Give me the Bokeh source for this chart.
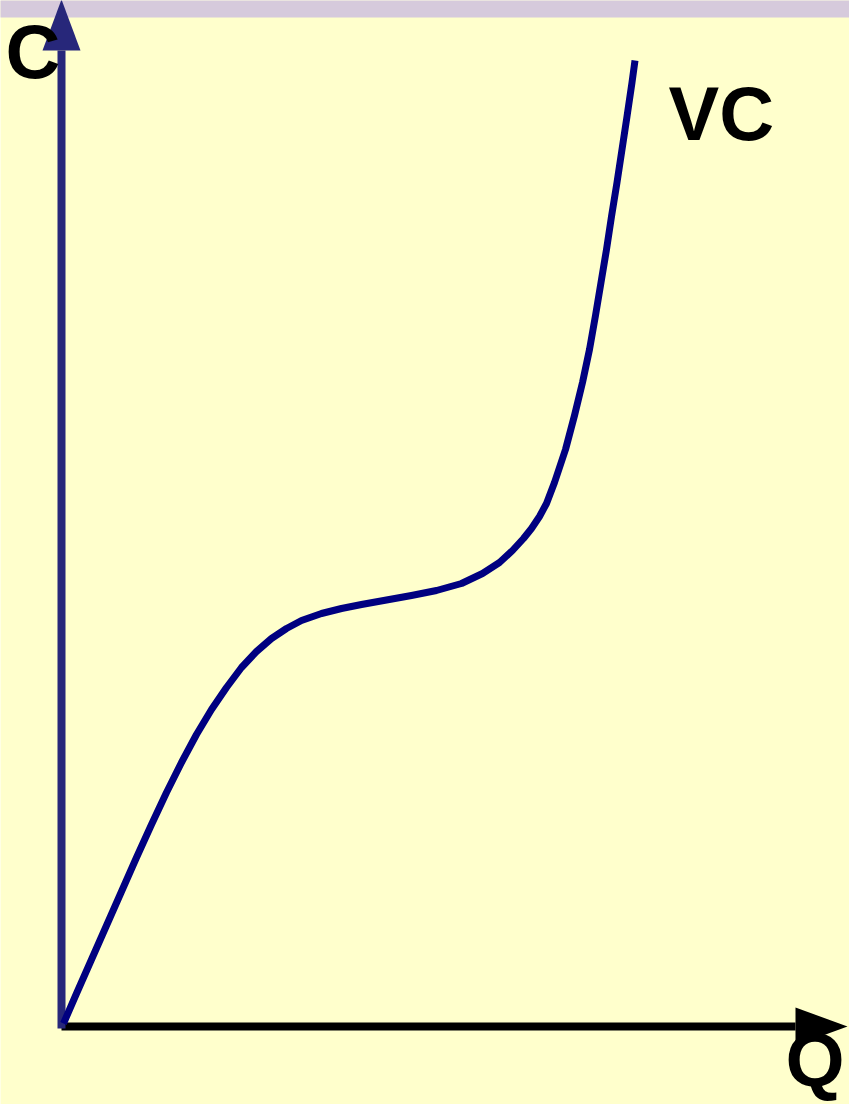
from bokeh.plotting import figure
from bokeh.embed import file_html
from bokeh.resources import INLINE
from bokeh.core.properties import value
from bokeh.models import Range1d

# Variable cost curve (Q = quantity, C = cost), arbitrary units
q_vals = [2, 15, 30, 45, 60, 75, 90, 105, 120, 135, 150, 165, 180, 195, 210, 225,
          240, 260, 280, 300, 325, 350, 375, 400, 421, 438, 451, 462, 470, 478,
          485, 493, 504, 513, 521, 528, 534, 539.5, 545, 550, 555.5, 560.5, 565.5,
          570.5, 573.5]
c_vals = [3, 33, 67, 101, 135, 169, 202, 234, 264, 292, 317, 339, 359, 375, 388, 398,
          406, 413, 418, 422, 426.5, 431, 436, 443, 453, 464, 476, 488, 498, 510,
          523, 544, 577, 611, 644, 677, 711, 744, 777, 810, 844, 877, 910,
          944, 966]

x_label = "Q"
y_label = "C"
curve_label = "VC"

W, H = 849, 1104
p = figure(width=W, height=H, output_backend="svg", toolbar_location=None,
           x_range=Range1d(-61, 788), y_range=Range1d(-78, 1026),
           min_border=0, min_border_left=0, min_border_right=0,
           min_border_top=0, min_border_bottom=0)
p.axis.visible = False
p.grid.visible = False
p.outline_line_color = None
p.background_fill_color = "#FFFFCC"
p.border_fill_color = "#FFFFCC"

# top band
p.quad(left=-80, right=800, bottom=1009, top=1040, fill_color="#D6CADC", line_color=None)

# horizontal axis (black)
p.segment(x0=0, y0=0, x1=734, y1=0, line_color="black", line_width=8)
p.patch(x=[734, 786, 734], y=[19, 0, -19], fill_color="black", line_color=None)

# vertical axis (dark blue)
p.segment(x0=0, y0=-2, x1=0, y1=976, line_color="#27277A", line_width=8)
p.patch(x=[-19, 0, 19], y=[976, 1027, 976], fill_color="#27277A", line_color=None)

# VC curve
p.line(q_vals, c_vals, line_color="#000080", line_width=7, line_join="round")

font = value("Liberation Sans")
p.text(x=[-56], y=[975], text=[y_label], text_font=font, text_font_size="76px",
       text_font_style="bold", text_color="black", text_baseline="alphabetic")
p.text(x=[607], y=[913], text=[curve_label], text_font=font, text_font_size="76px",
       text_font_style="bold", text_color="black", text_baseline="alphabetic")
p.text(x=[724], y=[-33], text=[x_label], text_font=font, text_font_size="76px",
       text_font_style="bold", text_color="black", text_baseline="alphabetic")

open("out.html", "w").write(file_html(p, INLINE))
